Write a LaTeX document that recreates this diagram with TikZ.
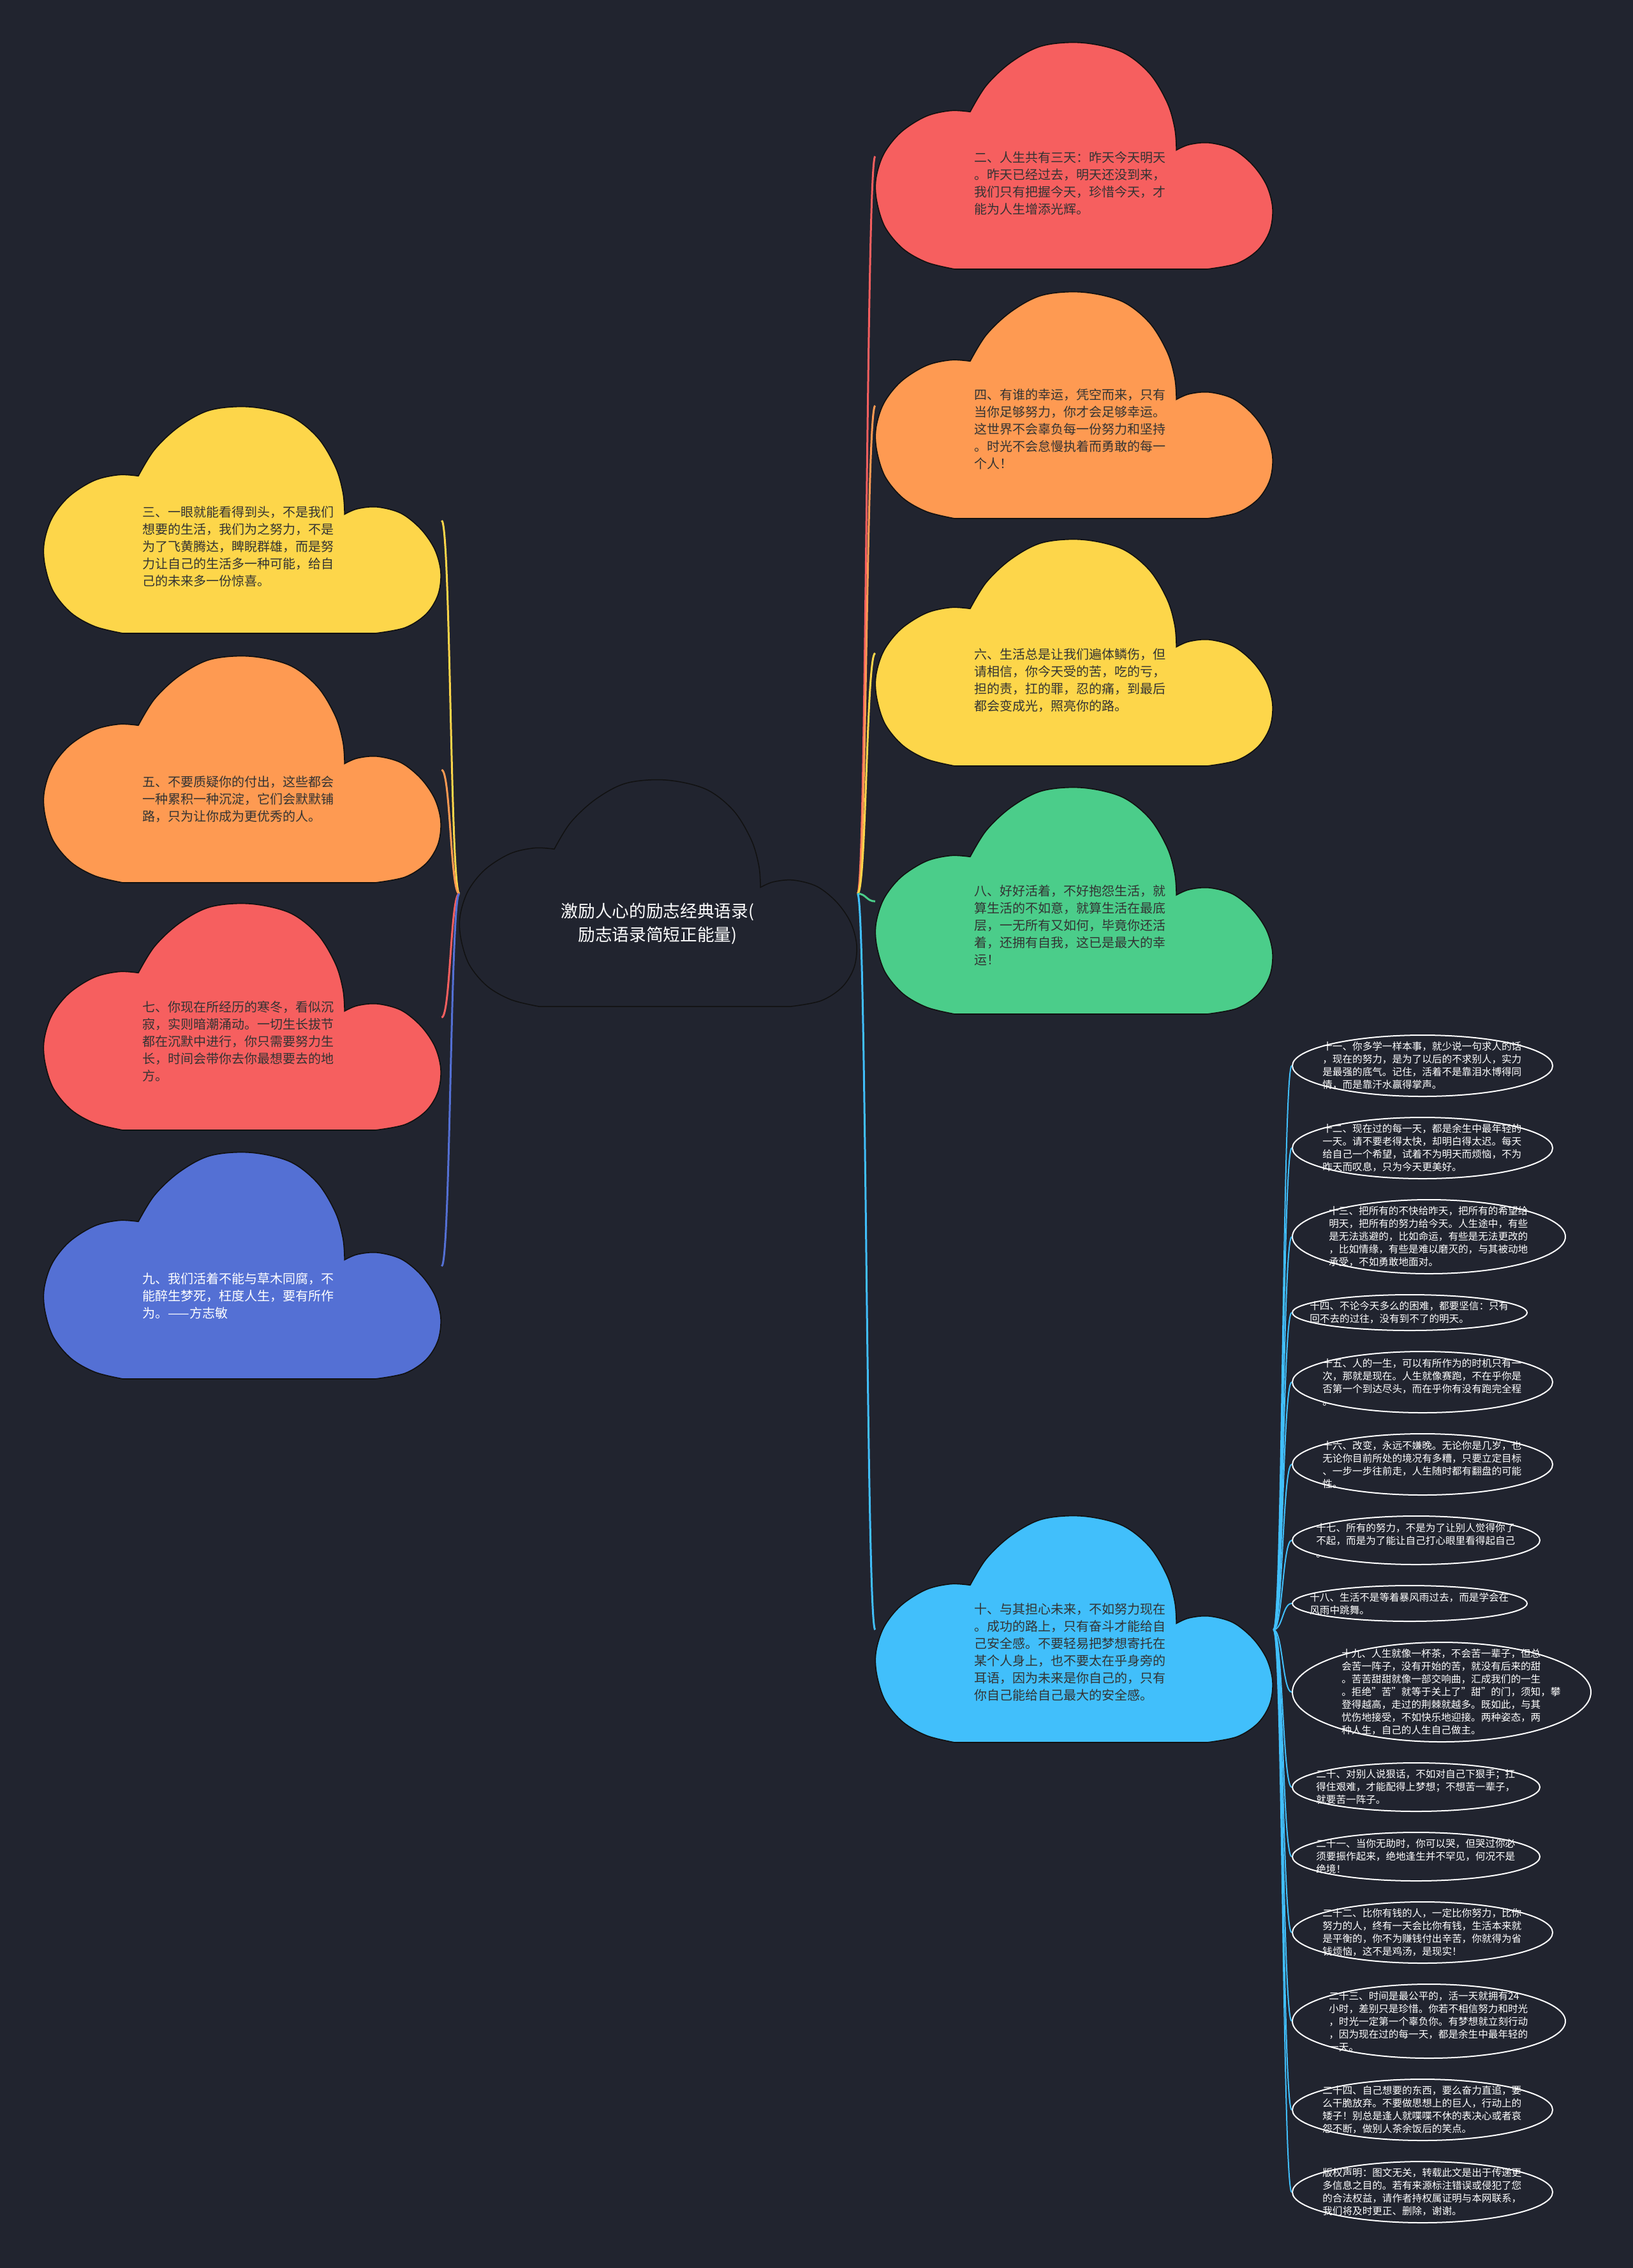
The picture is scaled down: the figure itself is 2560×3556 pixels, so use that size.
\documentclass[tikz,border=0pt]{standalone}
\usepackage{fontspec}
\setmainfont{Noto Sans CJK SC}
\usetikzlibrary{calc,shapes.geometric}
\definecolor{bg}{HTML}{21242F}
\definecolor{cred}{HTML}{F65F5F}
\definecolor{corange}{HTML}{FE9A52}
\definecolor{cyellow}{HTML}{FDD64A}
\definecolor{cgreen}{HTML}{4BCD8A}
\definecolor{cblue}{HTML}{5470D4}
\definecolor{csky}{HTML}{41BFFB}
\definecolor{ctxt}{HTML}{333333}
\definecolor{cline}{HTML}{111111}

\newcommand\mkcloud[6]{%
 \begin{scope}[shift={(#2,#3)}, x=186.9pt, y=-106.5pt]
 \path[fill=#4, draw=#5, line width=#6] (0.239,0.305)
   -- plot[smooth, tension=0.55] coordinates {(0.239,0.305) (0.19,0.300) (0.128,0.325) (0.065,0.395) (0.022,0.49) (0.002,0.60) (0.004,0.70) (0.025,0.815) (0.07,0.91) (0.13,0.97) (0.20,1.0)}
   -- (0.835,1.0)
   -- plot[smooth, tension=0.55] coordinates {(0.835,1.0) (0.91,0.975) (0.963,0.915) (0.993,0.83) (1.0,0.73) (0.985,0.63) (0.95,0.54) (0.90,0.47) (0.84,0.442) (0.79,0.45) (0.758,0.474)}
   -- plot[smooth, tension=0.55] coordinates {(0.758,0.474) (0.754,0.38) (0.735,0.265) (0.69,0.135) (0.62,0.04) (0.52,0.0) (0.42,0.014) (0.343,0.085) (0.28,0.188) (0.239,0.305)}
   -- cycle;
 \end{scope}
 \node[cloudbox] (#1) at (#2,#3) {};
}

\tikzset{
 cloudbox/.style={anchor=north west, minimum width=186.9pt, minimum height=106.5pt, inner sep=0pt, draw=none},
 ctext/.style={anchor=west, font=\fontsize{6}{8.1}\selectfont, text width=91pt, align=left, inner sep=0pt, text=ctxt},
 conn/.style={line width=0.9pt, to path={let \p1=(\tikztostart), \p2=(\tikztotarget) in .. controls ({0.5*\x1+0.5*\x2},\y1) and ({0.5*\x1+0.5*\x2},\y2) .. (\tikztotarget)}},
 leafconn/.style={conn, line width=0.6pt, csky},
 leaf/.style={ellipse, anchor=west, draw=white, line width=0.6pt, text=white, font=\fontsize{4.68}{6}\selectfont, text width=94pt, align=left, inner xsep=-10pt, inner ysep=-6pt},
 leafrows/.style={minimum width={(328+20*#1)*0.3pt}, minimum height={(16+20*#1)*0.3pt}}
}

\begin{document}
\begin{tikzpicture}[x=0.3pt, y=-0.3pt]
\path[fill=bg] (0,0) rectangle (2560,3556);

% clouds
\mkcloud{root}{720}{1223}{bg}{cline}{0.45pt}
\mkcloud{c2}{1372}{67}{cred}{cline}{0.5pt}
\mkcloud{c4}{1372}{458}{corange}{cline}{0.5pt}
\mkcloud{c6}{1372}{846}{cyellow}{cline}{0.5pt}
\mkcloud{c8}{1372}{1235}{cgreen}{cline}{0.5pt}
\mkcloud{c10}{1372}{2377}{csky}{cline}{0.5pt}
\mkcloud{c3}{68}{638}{cyellow}{cline}{0.5pt}
\mkcloud{c5}{68}{1029}{corange}{cline}{0.5pt}
\mkcloud{c7}{68}{1417}{cred}{cline}{0.5pt}
\mkcloud{c9}{68}{1807}{cblue}{cline}{0.5pt}

% leaves
\node[leaf, leafrows=4] (l11) at (2025,1671) {十一、你多学一样本事，就少说一句求人的话\\，现在的努力，是为了以后的不求别人，实力\\是最强的底气。记住，活着不是靠泪水博得同\\情，而是靠汗水赢得掌声。};
\node[leaf, leafrows=4] (l12) at (2025,1800) {十二、现在过的每一天，都是余生中最年轻的\\一天。请不要老得太快，却明白得太迟。每天\\给自己一个希望，试着不为明天而烦恼，不为\\昨天而叹息，只为今天更美好。};
\node[leaf, leafrows=5] (l13) at (2025,1939) {十三、把所有的不快给昨天，把所有的希望给\\明天，把所有的努力给今天。人生途中，有些\\是无法逃避的，比如命运，有些是无法更改的\\，比如情缘，有些是难以磨灭的，与其被动地\\承受，不如勇敢地面对。};
\node[leaf, leafrows=2] (l14) at (2025,2058) {十四、不论今天多么的困难，都要坚信：只有\\回不去的过往，没有到不了的明天。};
\node[leaf, leafrows=4] (l15) at (2025,2167) {十五、人的一生，可以有所作为的时机只有一\\次，那就是现在。人生就像赛跑，不在乎你是\\否第一个到达尽头，而在乎你有没有跑完全程\\。};
\node[leaf, leafrows=4] (l16) at (2025,2296) {十六、改变，永远不嫌晚。无论你是几岁，也\\无论你目前所处的境况有多糟，只要立定目标\\、一步一步往前走，人生随时都有翻盘的可能\\性。};
\node[leaf, leafrows=3] (l17) at (2025,2415) {十七、所有的努力，不是为了让别人觉得你了\\不起，而是为了能让自己打心眼里看得起自己\\。};
\node[leaf, leafrows=2] (l18) at (2025,2514) {十八、生活不是等着暴风雨过去，而是学会在\\风雨中跳舞。};
\node[leaf, leafrows=7] (l19) at (2025,2653) {十九、人生就像一杯茶，不会苦一辈子，但总\\会苦一阵子，没有开始的苦，就没有后来的甜\\。苦苦甜甜就像一部交响曲，汇成我们的一生\\。拒绝"苦"就等于关上了"甜"的门，须知，攀\\登得越高，走过的荆棘就越多。既如此，与其\\忧伤地接受，不如快乐地迎接。两种姿态，两\\种人生，自己的人生自己做主。};
\node[leaf, leafrows=3] (l20) at (2025,2802) {二十、对别人说狠话，不如对自己下狠手；扛\\得住艰难，才能配得上梦想；不想苦一辈子，\\就要苦一阵子。};
\node[leaf, leafrows=3] (l21) at (2025,2911) {二十一、当你无助时，你可以哭，但哭过你必\\须要振作起来，绝地逢生并不罕见，何况不是\\绝境！};
\node[leaf, leafrows=4] (l22) at (2025,3030) {二十二、比你有钱的人，一定比你努力，比你\\努力的人，终有一天会比你有钱，生活本来就\\是平衡的，你不为赚钱付出辛苦，你就得为省\\钱烦恼，这不是鸡汤，是现实！};
\node[leaf, leafrows=5] (l23) at (2025,3169) {二十三、时间是最公平的，活一天就拥有24\\小时，差别只是珍惜。你若不相信努力和时光\\，时光一定第一个辜负你。有梦想就立刻行动\\，因为现在过的每一天，都是余生中最年轻的\\一天。};
\node[leaf, leafrows=4] (l24) at (2025,3308) {二十四、自己想要的东西，要么奋力直追，要\\么干脆放弃。不要做思想上的巨人，行动上的\\矮子！别总是逢人就喋喋不休的表决心或者哀\\怨不断，做别人茶余饭后的笑点。};
\node[leaf, leafrows=4] (l25) at (2025,3437) {版权声明：图文无关，转载此文是出于传递更\\多信息之目的。若有来源标注错误或侵犯了您\\的合法权益，请作者持权属证明与本网联系，\\我们将及时更正、删除，谢谢。};

% connectors
\draw[conn, cred] (root.east) to (c2.west);
\draw[conn, corange] (root.east) to (c4.west);
\draw[conn, cyellow] (root.east) to (c6.west);
\draw[conn, cgreen] (root.east) to (c8.west);
\draw[conn, csky] (root.east) to (c10.west);
\draw[conn, cyellow] (root.west) to (c3.east);
\draw[conn, corange] (root.west) to (c5.east);
\draw[conn, cred] (root.west) to (c7.east);
\draw[conn, cblue] (root.west) to (c9.east);
\foreach \l in {l11,l12,l13,l14,l15,l16,l17,l18,l19,l20,l21,l22,l23,l24,l25}
  \draw[leafconn] (c10.east) to (\l.west);

% texts
\node[font=\fontsize{8}{11.1}\selectfont, text=white, align=center] (troot) at (1031,1448) {激励人心的励志经典语录(\\励志语录简短正能量)};
\node[ctext] (t2) at (1527,287.5) {二、人生共有三天：昨天今天明天\\。昨天已经过去，明天还没到来，\\我们只有把握今天，珍惜今天，才\\能为人生增添光辉。};
\node[ctext] (t4) at (1527,673) {四、有谁的幸运，凭空而来，只有\\当你足够努力，你才会足够幸运。\\这世界不会辜负每一份努力和坚持\\。时光不会怠慢执着而勇敢的每一\\个人！};
\node[ctext] (t6) at (1527,1067) {六、生活总是让我们遍体鳞伤，但\\请相信，你今天受的苦，吃的亏，\\担的责，扛的罪，忍的痛，到最后\\都会变成光，照亮你的路。};
\node[ctext] (t8) at (1527,1451) {八、好好活着，不好抱怨生活，就\\算生活的不如意，就算生活在最底\\层，一无所有又如何，毕竟你还活\\着，还拥有自我，这已是最大的幸\\运！};
\node[ctext] (t10) at (1527,2590) {十、与其担心未来，不如努力现在\\。成功的路上，只有奋斗才能给自\\己安全感。不要轻易把梦想寄托在\\某个人身上，也不要太在乎身旁的\\耳语，因为未来是你自己的，只有\\你自己能给自己最大的安全感。};
\node[ctext] (t3) at (223,857) {三、一眼就能看得到头，不是我们\\想要的生活，我们为之努力，不是\\为了飞黄腾达，睥睨群雄，而是努\\力让自己的生活多一种可能，给自\\己的未来多一份惊喜。};
\node[ctext] (t5) at (223,1253) {五、不要质疑你的付出，这些都会\\一种累积一种沉淀，它们会默默铺\\路，只为让你成为更优秀的人。};
\node[ctext] (t7) at (223,1633) {七、你现在所经历的寒冬，看似沉\\寂，实则暗潮涌动。一切生长拔节\\都在沉默中进行，你只需要努力生\\长，时间会带你去你最想要去的地\\方。};
\node[ctext, text=white] (t9) at (223,2032) {九、我们活着不能与草木同腐，不\\能醉生梦死，枉度人生，要有所作\\为。——方志敏};
\end{tikzpicture}
\end{document}
